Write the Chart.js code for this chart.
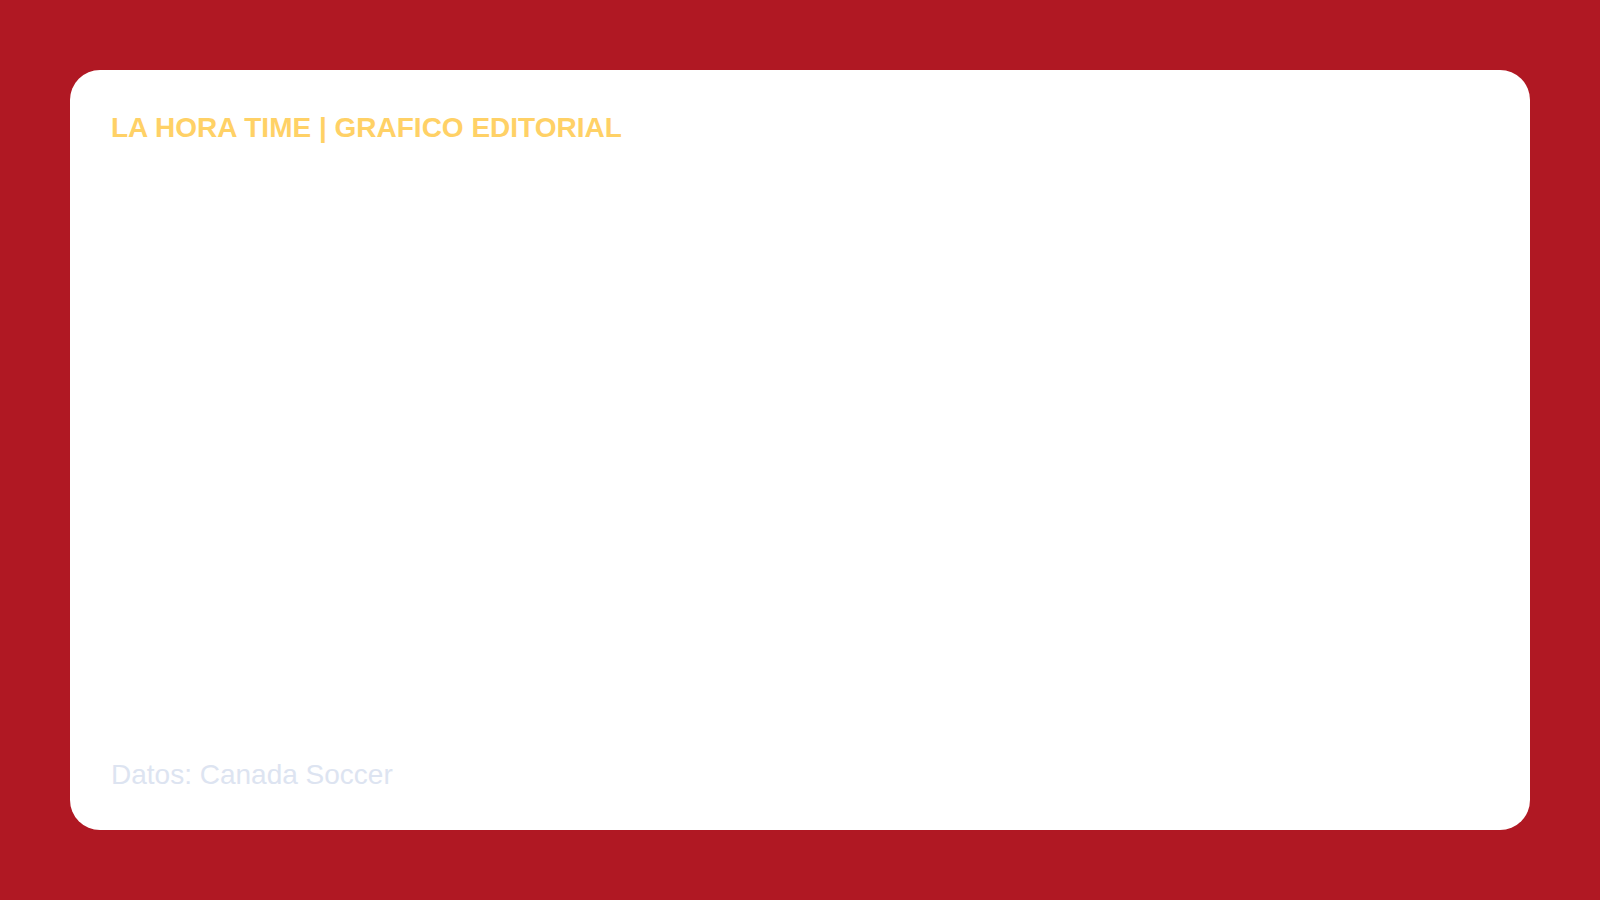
<!DOCTYPE html>
<html lang="es">
<head>
<meta charset="utf-8">
<title>La Hora Time | Grafico editorial</title>
<script src="https://cdn.jsdelivr.net/npm/chart.js@4"></script>
<style>
  html, body { margin: 0; padding: 0; }
  body {
    width: 1600px; height: 900px;
    background: #b01823;
    font-family: Arial, "Liberation Sans", sans-serif;
    position: relative;
    overflow: hidden;
  }
  .card {
    position: absolute;
    left: 70px; top: 70px;
    width: 1460px; height: 760px;
    background: #ffffff;
    border-radius: 30px;
  }
  .kicker {
    position: absolute;
    left: 41px; top: 44px;
    font-size: 28px; line-height: 1;
    font-weight: bold;
    color: #ffd166;
    white-space: nowrap;
  }
  .chart-box {
    position: absolute;
    left: 40px; top: 100px;
    width: 1380px; height: 570px;
  }
  .source {
    position: absolute;
    left: 41px; top: 691px;
    font-size: 28px; line-height: 1;
    color: #dde4f1;
    white-space: nowrap;
  }
</style>
</head>
<body>
<div class="card">
  <div class="kicker">LA HORA TIME | GRAFICO EDITORIAL</div>
  <div class="chart-box"><canvas id="chart"></canvas></div>
  <div class="source">Datos: Canada Soccer</div>
</div>

<script>
// nothing is plotted in the reference: the plot area is blank
const categories = [];
const values = [];

const chartConfig = {
    type: 'bar',
    data: {
        labels: categories,
        datasets: [{
            label: 'Canada Soccer',
            data: values,
            backgroundColor: '#b01823'
        }]
    },
    options: {
        responsive: true,
        maintainAspectRatio: false,
        animation: false,
        plugins: {
            legend: {display: false},
            title: {display: false},
            tooltip: {enabled: false}
        },
        scales: {
            x: {display: false, grid: {display: false}},
            y: {display: false, grid: {display: false}, beginAtZero: true}
        }
    }
};

new Chart(document.getElementById('chart'), chartConfig);
</script>
</body>
</html>
